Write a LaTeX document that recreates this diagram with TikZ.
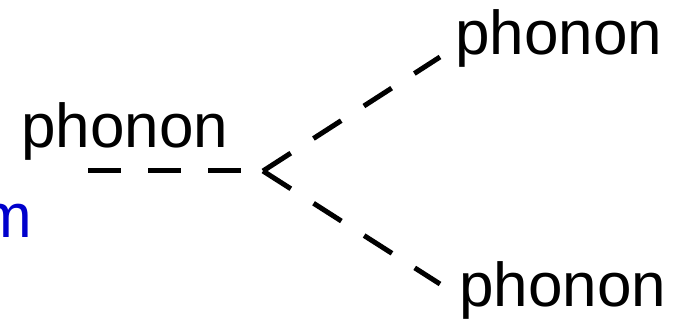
\documentclass[tikz,border=0pt]{standalone}
\usepackage{fontspec}
\setmainfont{Liberation Sans}
\definecolor{mblue}{RGB}{0,0,204}
\begin{document}
\begin{tikzpicture}[x=1pt,y=-1pt,
  lbl/.style={inner sep=0pt,anchor=base west,font=\fontsize{62}{70}\selectfont},
  phline/.style={line width=5pt,dash pattern=on 33pt off 27pt}]
\useasboundingbox (0,0) rectangle (691,320);
\clip (0,0) rectangle (691,320);
\node[lbl] (ptop) at (455,55) {phonon};
\node[lbl] (pleft) at (21,148) {phonon};
\node[lbl] (pbot) at (459,307) {phonon};
\node[lbl,anchor=base east,text=mblue] (mw) at (32,238) {m};
\coordinate (h0) at (88,171);
\coordinate (v) at (263,171);
\coordinate (u1) at (440,57);
\coordinate (d1) at (440,284);
\draw[phline] (h0) -- (v);
\draw[phline] (v) -- (u1);
\draw[phline] (v) -- (d1);
\end{tikzpicture}
\end{document}
